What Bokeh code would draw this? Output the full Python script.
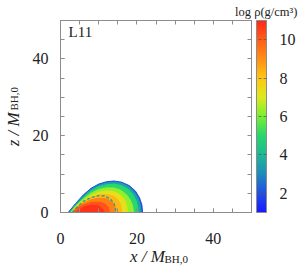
import numpy as np
from bokeh.plotting import figure
from bokeh.models import (LinearColorMapper, ColorBar, FixedTicker, LinearAxis,
                          Label, Range1d, ColumnDataSource, Title)
from bokeh.embed import file_html
from bokeh.resources import INLINE

# ---------------- data ----------------
# filled density contours (outermost first); value = log rho shown in band
band_values = [2.0, 3.5, 5.0, 6.3, 7.3, 8.3, 9.3, 10.2, 10.8]
band_x = [
    [2.0, 4, 6, 8, 10, 12, 14, 16, 18, 19.6, 20.7, 21.3, 21.5],
    [2.3, 4, 6, 8, 10, 12, 14, 16, 18, 19.4, 20.4, 20.9, 21.1],
    [2.5, 4, 6, 8, 10, 12, 14, 16, 17.8, 19.0, 19.8, 20.2, 20.3],
    [2.7, 4, 6, 8, 10, 12, 14, 15.8, 17.3, 18.3, 18.9, 19.1],
    [2.9, 4, 6, 8, 10, 12, 14, 15.6, 16.7, 17.3, 17.5],
    [3.0, 4, 6, 8, 10, 12, 13.8, 15.0, 15.8, 16.0],
    [3.1, 4, 6, 8, 10, 12, 13.4, 14.2, 14.4],
    [3.2, 4.5, 6, 8, 10, 11.5, 12.5, 12.8],
    [4.0, 6, 8, 10, 11, 11.5],
]
band_z = [
    [0, 2.4, 4.6, 6.3, 7.4, 8.0, 8.2, 7.9, 7.0, 5.6, 3.8, 2.0, 0],
    [0, 2.2, 4.3, 6.0, 7.1, 7.7, 7.9, 7.6, 6.7, 5.3, 3.6, 1.9, 0],
    [0, 1.9, 3.9, 5.6, 6.7, 7.2, 7.4, 7.0, 6.0, 4.6, 3.0, 1.5, 0],
    [0, 1.7, 3.5, 5.0, 6.0, 6.4, 6.4, 5.8, 4.6, 3.2, 1.6, 0],
    [0, 1.5, 3.1, 4.4, 5.3, 5.6, 5.4, 4.6, 3.4, 1.8, 0],
    [0, 1.3, 2.8, 3.9, 4.6, 4.7, 4.3, 3.4, 2.0, 0],
    [0, 1.1, 2.4, 3.3, 3.7, 3.6, 2.9, 1.6, 0],
    [0, 1.2, 2.0, 2.6, 2.7, 2.3, 1.4, 0],
    [0, 1.4, 1.9, 1.7, 0.9, 0],
]
# dashed contour
dash_x = [3.1, 4.5, 6, 8, 10, 11.5, 13, 14, 14.4, 14.5]
dash_z = [0, 1.6, 2.9, 3.9, 4.4, 4.3, 3.6, 2.4, 1.0, 0]

panel_label = "L11"
axis_ticks = [0, 20, 40]
axis_minor = [0, 5, 10, 15, 20, 25, 30, 35, 40, 45, 50]
cbar_ticks = [2, 4, 6, 8, 10]
cbar_low, cbar_high = 1, 11
cbar_title = "log \u03c1(g/cm\u00b3)"
x_title, z_title, sub_title = "x / M", "z / M", "BH,0"

# ---------------- palette (jet-like) ----------------
anchors_v = [1, 2, 3, 4, 5, 6, 7, 8, 9, 10, 11]
anchors_c = [(25, 25, 255), (35, 80, 230), (30, 140, 190), (30, 185, 150),
             (40, 215, 110), (120, 240, 50), (220, 235, 30), (255, 200, 20),
             (255, 145, 20), (255, 95, 25), (255, 40, 25)]
vv = np.linspace(1, 11, 256)
arr = np.array(anchors_c, dtype=float)
palette = []
for v in vv:
    r = np.interp(v, anchors_v, arr[:, 0])
    g = np.interp(v, anchors_v, arr[:, 1])
    b = np.interp(v, anchors_v, arr[:, 2])
    palette.append("#%02x%02x%02x" % (int(r), int(g), int(b)))

mapper = LinearColorMapper(palette=palette, low=cbar_low, high=cbar_high)

SERIF = "Liberation Serif"
GRAY = "#8c8c8c"
TXT = "#222222"
NB = "\u00a0"

p = figure(frame_width=191, frame_height=192,
           min_border_left=60, min_border_right=49,
           min_border_top=20, min_border_bottom=50,
           x_range=Range1d(0, 50), y_range=Range1d(0, 50),
           output_backend="svg", toolbar_location=None,
           background_fill_color="white", border_fill_color="white")
p.grid.visible = False
p.outline_line_color = GRAY

src = ColumnDataSource(dict(xs=band_x, ys=band_z, v=band_values))
p.patches("xs", "ys", source=src,
          fill_color={"field": "v", "transform": mapper},
          line_color={"field": "v", "transform": mapper}, line_width=1)
p.line(dash_x, dash_z, line_color="#1fa394", line_width=1.3, line_dash="3 2")

def style_axis(ax, labels=True):
    ax.ticker = FixedTicker(ticks=axis_ticks if labels else [], minor_ticks=axis_minor)
    ax.axis_line_color = GRAY
    ax.major_tick_line_color = GRAY
    ax.minor_tick_line_color = GRAY
    ax.major_tick_in = 4
    ax.major_tick_out = 0
    ax.minor_tick_in = 4
    ax.minor_tick_out = 0
    ax.major_label_text_font = SERIF
    ax.major_label_text_font_size = "16px"
    ax.major_label_text_color = TXT
    ax.axis_label_text_font = SERIF
    ax.axis_label_text_font_size = "17px"
    ax.axis_label_text_font_style = "italic"
    ax.axis_label_text_color = TXT
    if not labels:
        ax.major_label_standoff = 0

xa = p.xaxis[0]
ya = p.yaxis[0]
style_axis(xa)
style_axis(ya)
xa.major_label_standoff = 20
ya.major_label_standoff = 12
xa.axis_label = x_title + NB * 4
xa.axis_label_standoff = 0
ya.axis_label = z_title + NB * 6
ya.axis_label_standoff = 7

top_ax = LinearAxis()
style_axis(top_ax, labels=False)
p.add_layout(top_ax, "above")
right_ax = LinearAxis()
style_axis(right_ax, labels=False)
p.add_layout(right_ax, "right")

cb = ColorBar(color_mapper=mapper, ticker=FixedTicker(ticks=cbar_ticks),
              width=10, height=192, margin=0, padding=0,
              location=(5, 0),
              label_standoff=13,
              major_label_text_font=SERIF, major_label_text_font_size="16px",
              major_label_text_color=TXT,
              major_tick_line_color="#555555", major_tick_line_alpha=0.7,
              major_tick_line_dash="3 2",
              major_tick_in=10, major_tick_out=0,
              minor_tick_line_color=None,
              bar_line_color=GRAY, border_line_color=None,
              background_fill_alpha=0)
p.add_layout(cb, "right")

# colour-bar title (plot title, right aligned past the frame)
p.title.text = cbar_title
p.title.align = "right"
p.title.offset = -46
p.title.standoff = 3.6
p.title.vertical_align = "bottom"
p.title.text_font = SERIF
p.title.text_font_size = "12.5px"
p.title.text_font_style = "normal"
p.title.text_color = TXT

# subscripts of the axis titles
p.add_layout(Title(text=sub_title, align="left", offset=104, standoff=-31.6,
                   vertical_align="top", text_font=SERIF, text_font_size="11px",
                   text_font_style="normal", text_color=TXT), "below")
p.add_layout(Title(text=sub_title, align="left", offset=102, standoff=-38.8,
                   vertical_align="bottom", text_font=SERIF, text_font_size="11px",
                   text_font_style="normal", text_color=TXT), "left")

# panel label
p.add_layout(Label(x=2.1, y=44.8, text=panel_label, text_font=SERIF,
                   text_font_size="15px", text_color=TXT))

open("out.html", "w").write(file_html(p, INLINE))
